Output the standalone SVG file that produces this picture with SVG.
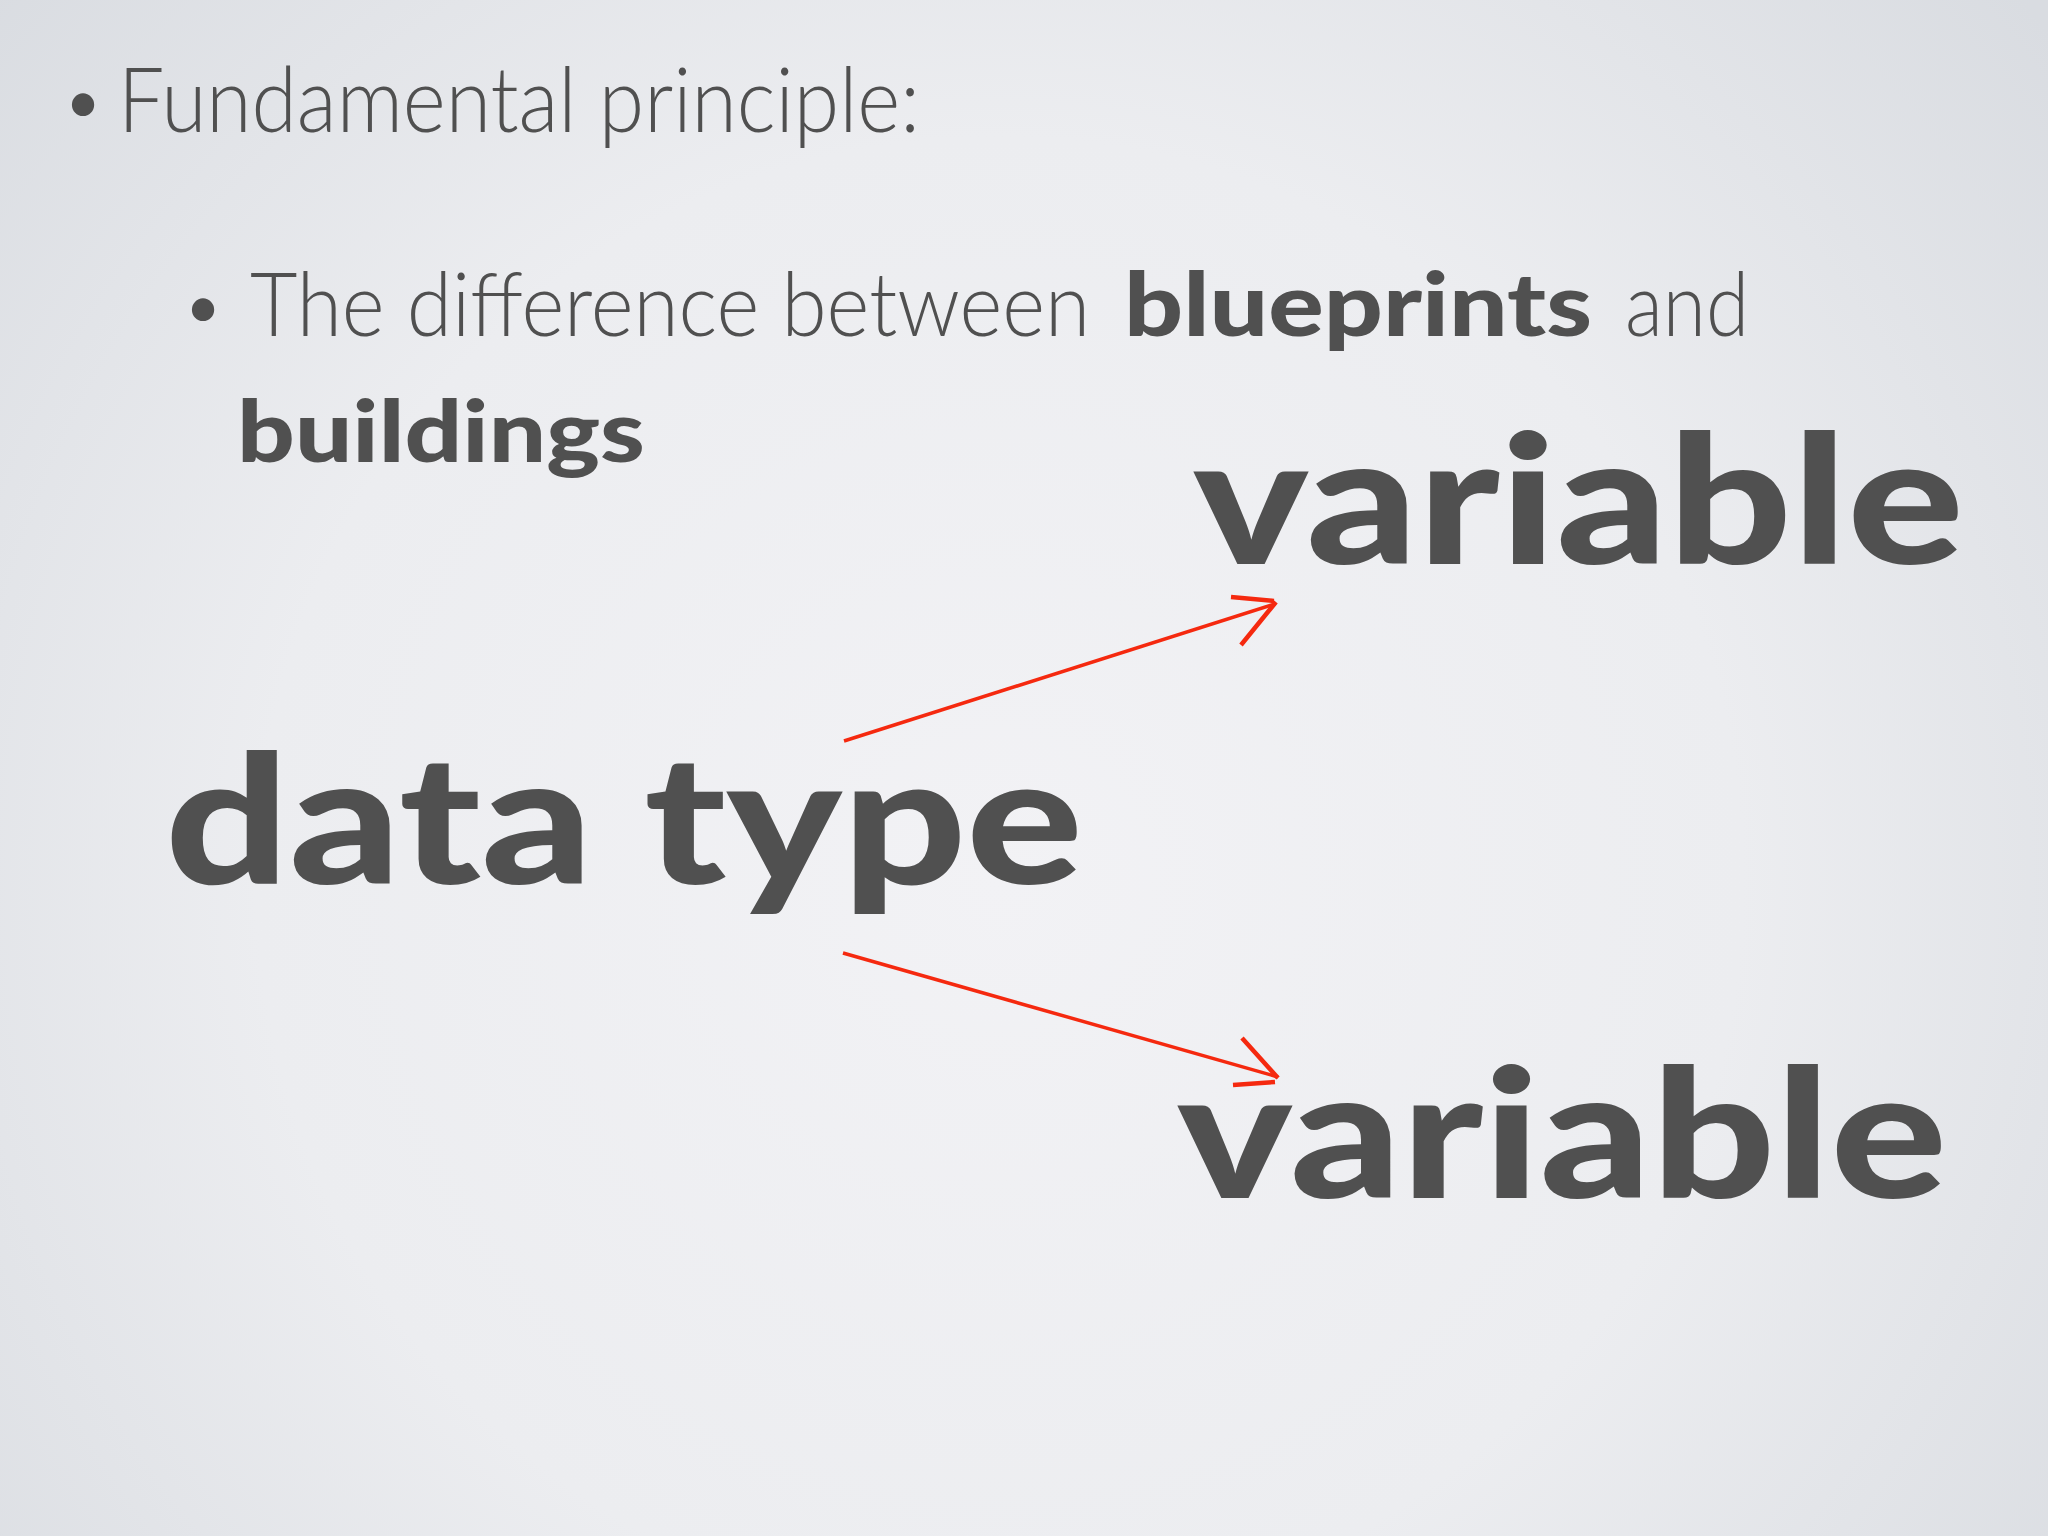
<svg xmlns="http://www.w3.org/2000/svg" width="2048" height="1536" viewBox="0 0 2048 1536">
  <defs>
    <radialGradient id="bg" cx="1000" cy="880" r="1350" gradientUnits="userSpaceOnUse">
      <stop offset="0" stop-color="#f2f2f5"/>
      <stop offset="0.55" stop-color="#ecedf0"/>
      <stop offset="1" stop-color="#d9dce1"/>
    </radialGradient>
    <style>
      .light { font-family: "Lato", "Open Sans", "Liberation Sans", sans-serif; font-weight: 300; fill: #505050; }
      .bold { font-family: "Lato", "Open Sans", "Liberation Sans", sans-serif; font-weight: 900; fill: #505050; }
      .big { font-family: "Lato", "Open Sans", "Liberation Sans", sans-serif; font-weight: 900; fill: #505050; font-size: 180px; }
      .arrow { stroke: #f5290f; fill: none; stroke-linecap: butt; }
    </style>
  </defs>
  <rect x="0" y="0" width="2048" height="1536" fill="url(#bg)"/>

  <g id="bullets">
    <text class="light" x="61" y="128" font-size="76">•</text>
    <text class="light" x="118" y="132" font-size="90" textLength="802" lengthAdjust="spacingAndGlyphs">Fundamental principle:</text>
    <text class="light" x="181" y="333" font-size="76">•</text>
    <text class="light" x="250" y="336" font-size="88" textLength="840" lengthAdjust="spacingAndGlyphs">The difference between</text>
    <text class="bold" x="1124" y="336" font-size="88" textLength="468" lengthAdjust="spacingAndGlyphs">blueprints</text>
    <text class="light" x="1625" y="336" font-size="88" textLength="124" lengthAdjust="spacingAndGlyphs">and</text>
    <text class="bold" x="237" y="462" font-size="86" textLength="408" lengthAdjust="spacingAndGlyphs">buildings</text>
  </g>

  <g id="node-datatype">
    <text class="big" x="165" y="884" textLength="918" lengthAdjust="spacingAndGlyphs">data type</text>
  </g>
  <g id="node-variable-top">
    <text class="big" x="1193" y="564" textLength="771" lengthAdjust="spacingAndGlyphs">variable</text>
  </g>
  <g id="node-variable-bottom">
    <text class="big" x="1177" y="1198" textLength="770" lengthAdjust="spacingAndGlyphs">variable</text>
  </g>

  <g id="connectors">
    <line class="arrow" x1="844" y1="741" x2="1275" y2="604" stroke-width="3.5"/>
    <path class="arrow" d="M1231 597 L1274 601 M1241 645 L1276 602" stroke-width="4.5"/>
    <line class="arrow" x1="843" y1="953" x2="1278" y2="1077" stroke-width="3.5"/>
    <path class="arrow" d="M1242 1038 L1278 1078 M1233 1085 L1275 1082" stroke-width="4.5"/>
  </g>
</svg>
